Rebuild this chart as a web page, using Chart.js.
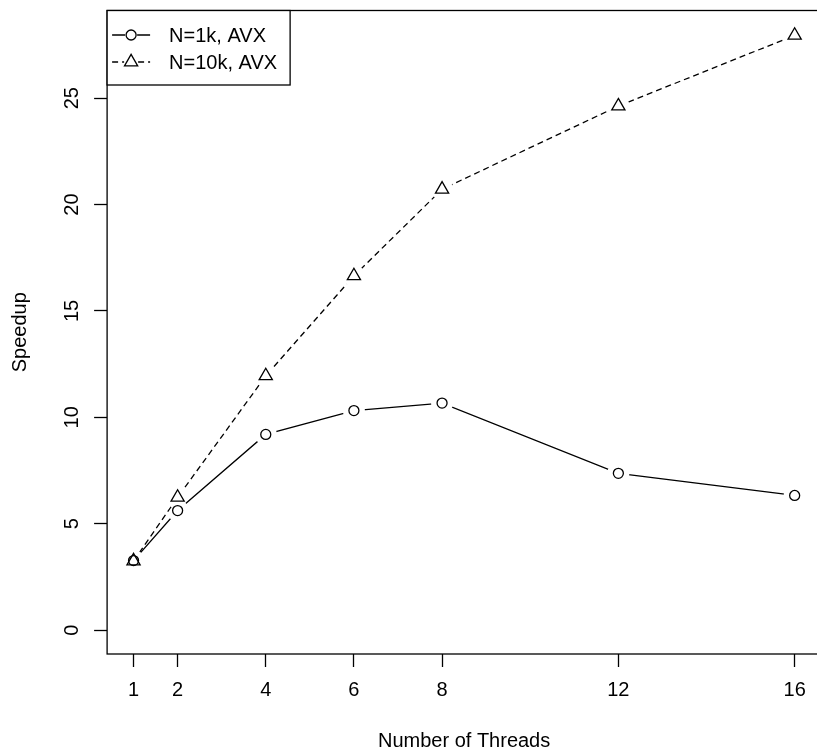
<!DOCTYPE html>
<html><head><meta charset="utf-8">
<script src="https://cdn.jsdelivr.net/npm/chart.js@4/dist/chart.umd.min.js"></script>
<style>html,body{margin:0;padding:0;background:#fff;}#wrap{width:817px;height:756px;overflow:hidden;position:relative;background:#fff;}canvas{display:block;}</style>
</head><body><div id="wrap"><canvas id="c" width="830" height="756"></canvas></div>
<script>
// ---- data ----
const threads = [1, 2, 4, 6, 8, 12, 16];
const speedup1k = [3.27, 5.62, 9.2, 10.32, 10.67, 7.37, 6.33];
const speedup10k = [3.25, 6.24, 11.95, 16.65, 20.72, 24.63, 27.95];
const xTicks = [1, 2, 4, 6, 8, 12, 16];
const yTicks = [0, 5, 10, 15, 20, 25];
const seriesLabels = ['N=1k, AVX', 'N=10k, AVX'];
const xTitle = 'Number of Threads';
const yTitle = 'Speedup';

// ---- styling ----
const FONT = "'Liberation Sans', Arial, Helvetica, sans-serif";
const FS = 20;
const LW = 1.3;
const GAP = 11;
Chart.defaults.font.family = FONT;
Chart.defaults.color = '#000';

const toXY = (xs, ys) => xs.map((x, i) => ({x: x, y: ys[i]}));

const gapPlugin = {
  id: 'gapPlugin',
  beforeDatasetDraw(chart, args) {
    const ctx = chart.ctx;
    ctx.save();
    ctx.beginPath();
    ctx.rect(0, 0, chart.width, chart.height);
    args.meta.data.forEach(p => {
      ctx.moveTo(p.x + GAP, p.y);
      ctx.arc(p.x, p.y, GAP, 0, Math.PI * 2);
    });
    ctx.clip('evenodd');
  },
  afterDatasetDraw(chart, args) {
    chart.ctx.restore();
    args.meta.data.forEach(p => p.draw(chart.ctx, chart.chartArea));
  }
};

const frameLegendPlugin = {
  id: 'frameLegend',
  afterDraw(chart) {
    const ctx = chart.ctx;
    const a = chart.chartArea;
    ctx.save();
    ctx.strokeStyle = '#000';
    ctx.lineWidth = LW;
    ctx.setLineDash([]);
    ctx.strokeRect(a.left, a.top, a.right - a.left, a.bottom - a.top);
    // legend
    ctx.font = FS + 'px ' + FONT;
    const ds = chart.data.datasets;
    const textX = a.left + 62;
    let maxW = 0;
    ds.forEach(d => { maxW = Math.max(maxW, ctx.measureText(d.label).width); });
    const boxL = a.left, boxT = a.top;
    const boxR = textX + maxW + 13;
    const boxB = a.top + 74.5;
    ctx.fillStyle = '#fff';
    ctx.fillRect(boxL, boxT, boxR - boxL, boxB - boxT);
    ctx.strokeRect(boxL, boxT, boxR - boxL, boxB - boxT);
    const rows = [a.top + 24.5, a.top + 51.5];
    ds.forEach((d, i) => {
      const y = rows[i];
      const sx = a.left + 24;
      const r = d.pointRadius;
      const g = d.pointStyle === 'triangle' ? 7 : 6;
      ctx.strokeStyle = '#000';
      ctx.lineWidth = LW;
      ctx.setLineDash(d.borderDash || []);
      ctx.beginPath();
      ctx.moveTo(a.left + 5, y); ctx.lineTo(sx - g, y);
      ctx.moveTo(sx + g, y); ctx.lineTo(a.left + 43, y);
      ctx.stroke();
      ctx.setLineDash([]);
      ctx.fillStyle = 'rgba(0,0,0,0)';
      Chart.helpers.drawPoint(ctx, {pointStyle: d.pointStyle, radius: r, rotation: 0, borderWidth: LW}, sx, y);
      ctx.fillStyle = '#000';
      ctx.textBaseline = 'middle';
      ctx.textAlign = 'left';
      ctx.fillText(d.label, textX, y + 1);
    });
    ctx.restore();
  }
};

new Chart(document.getElementById('c'), {
  type: 'line',
  data: {
    datasets: [
      {
        label: seriesLabels[0],
        data: toXY(threads, speedup1k),
        borderColor: '#000', borderWidth: LW,
        pointStyle: 'circle', pointRadius: 5,
        pointBorderColor: '#000', pointBackgroundColor: 'rgba(0,0,0,0)', pointBorderWidth: LW,
        fill: false, tension: 0
      },
      {
        label: seriesLabels[1],
        data: toXY(threads, speedup10k),
        borderColor: '#000', borderWidth: LW, borderDash: [6, 4],
        pointStyle: 'triangle', pointRadius: 7.6,
        pointBorderColor: '#000', pointBackgroundColor: 'rgba(0,0,0,0)', pointBorderWidth: LW,
        fill: false, tension: 0
      }
    ]
  },
  options: {
    responsive: false,
    animation: false,
    events: [],
    layout: {padding: {top: 10.5, right: 3.7, bottom: 0, left: 0}},
    plugins: {legend: {display: false}, tooltip: {enabled: false}, title: {display: false}},
    scales: {
      x: {
        type: 'linear', min: 0.4, max: 16.6,
        afterBuildTicks: s => { s.ticks = xTicks.map(v => ({value: v})); },
        afterFit: s => { s.height = 102; s.paddingLeft = 0; s.paddingRight = 0; },
        grid: {display: true, drawOnChartArea: false, drawTicks: true, tickLength: 13, tickColor: '#000', tickWidth: LW},
        border: {display: false},
        ticks: {color: '#000', font: {size: FS}, padding: 11, maxRotation: 0, minRotation: 0, autoSkip: false},
        title: {display: true, text: xTitle, color: '#000', font: {size: FS}, padding: {top: 0, bottom: 3}}
      },
      y: {
        type: 'linear', min: -1.12, max: 29.12,
        afterBuildTicks: s => { s.ticks = yTicks.map(v => ({value: v})); },
        afterFit: s => { s.width = 107.1; s.paddingTop = 0; s.paddingBottom = 0; },
        grid: {display: true, drawOnChartArea: false, drawTicks: true, tickLength: 13, tickColor: '#000', tickWidth: LW},
        border: {display: false},
        ticks: {color: '#000', font: {size: FS}, padding: 10, minRotation: 90, maxRotation: 90, crossAlign: 'center', autoSkip: false},
        title: {display: true, text: yTitle, color: '#000', font: {size: FS}, padding: {top: 8, bottom: 0}}
      }
    }
  },
  plugins: [gapPlugin, frameLegendPlugin]
});
</script>
</body></html>
